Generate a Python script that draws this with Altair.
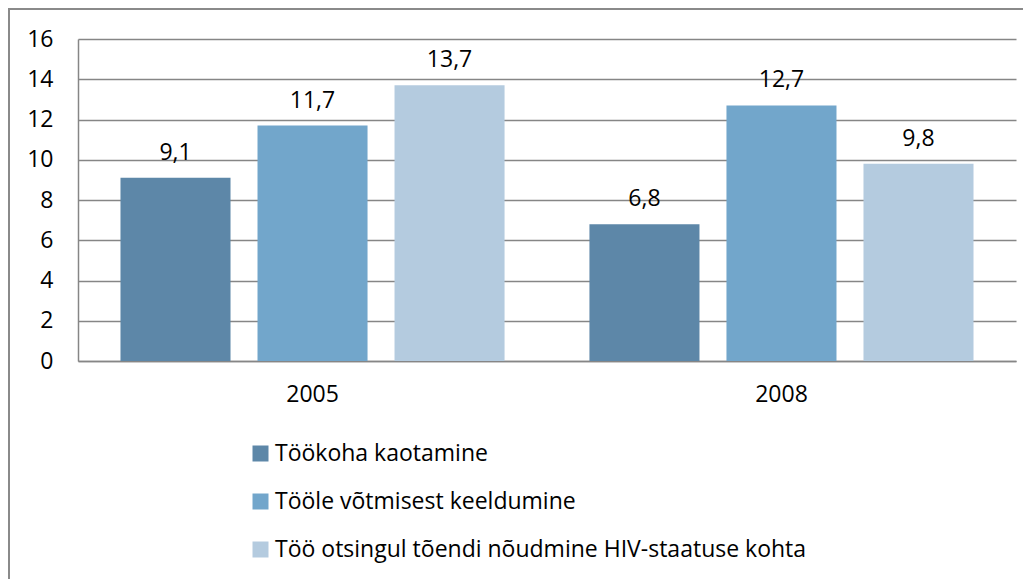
import altair as alt
import pandas as pd

years = ["2005", "2008"]
series = [
    "Töökoha kaotamine",
    "Tööle võtmisest keeldumine",
    "Töö otsingul tõendi nõudmine HIV-staatuse kohta",
]
values_2005 = [9.1, 11.7, 13.7]
values_2008 = [6.8, 12.7, 9.8]
colors = ["#5D87A8", "#72A6CB", "#B4CBDF"]
y_ticks = [0, 2, 4, 6, 8, 10, 12, 14, 16]

rows = []
for yr, vals in zip(years, [values_2005, values_2008]):
    for s, v in zip(series, vals):
        rows.append({"year": yr, "series": s, "value": v})
df = pd.DataFrame(rows)

FONT = "Open Sans"
FS = 23
GRAY = "#868686"

base = alt.Chart(df).encode(
    x=alt.X(
        "year:N",
        sort=years,
        title=None,
        scale=alt.Scale(paddingInner=0.181, paddingOuter=0.0906),
        axis=alt.Axis(labelAngle=0, labelPadding=22, ticks=False, grid=False,
                      domainColor=GRAY, domainWidth=1.5),
    ),
    xOffset=alt.XOffset("series:N", sort=series,
                        scale=alt.Scale(paddingInner=0.197, paddingOuter=0)),
    y=alt.Y(
        "value:Q",
        title=None,
        scale=alt.Scale(domain=[0, 16], nice=False),
        axis=alt.Axis(values=y_ticks, ticks=False, labelPadding=25,
                      gridColor=GRAY, gridWidth=1.5, domainColor=GRAY,
                      domainWidth=1.5),
    ),
)

bars = base.mark_bar().encode(
    color=alt.Color(
        "series:N",
        sort=series,
        scale=alt.Scale(domain=series, range=colors),
        legend=alt.Legend(
            title=None,
            orient="none",
            legendX=171,
            legendY=403,
            direction="vertical",
            symbolType="square",
            symbolSize=256,
            symbolStrokeWidth=0,
            rowPadding=24,
            labelOffset=3,
            labelFont=FONT,
            labelFontSize=FS,
            labelColor="#000000",
            labelLimit=1000,
        ),
    )
)

labels = base.mark_text(
    dy=-18, baseline="alphabetic", fontSize=FS, font=FONT, color="#000000"
).transform_calculate(
    label="replace(format(datum.value, '.1f'), '.', ',')"
).encode(text="label:N")

frame = alt.Chart(alt.Data(values=[{}])).mark_rect(
    fill=None, stroke="#8A8A8A", strokeWidth=2, clip=False
).encode(
    x=alt.value(-69), x2=alt.value(1000),
    y=alt.value(-30), y2=alt.value(600),
)

chart = alt.layer(frame, bars, labels).properties(
    width=938,
    height=322,
    autosize=alt.AutoSizeParams(type="none"),
    padding={"left": 70, "top": 31, "right": 7, "bottom": 218},
).configure_view(stroke=None).configure_axis(
    labelFont=FONT, labelFontSize=FS, labelColor="#000000"
)

chart.save("out.html", embed_options={"renderer": "svg", "actions": False})
